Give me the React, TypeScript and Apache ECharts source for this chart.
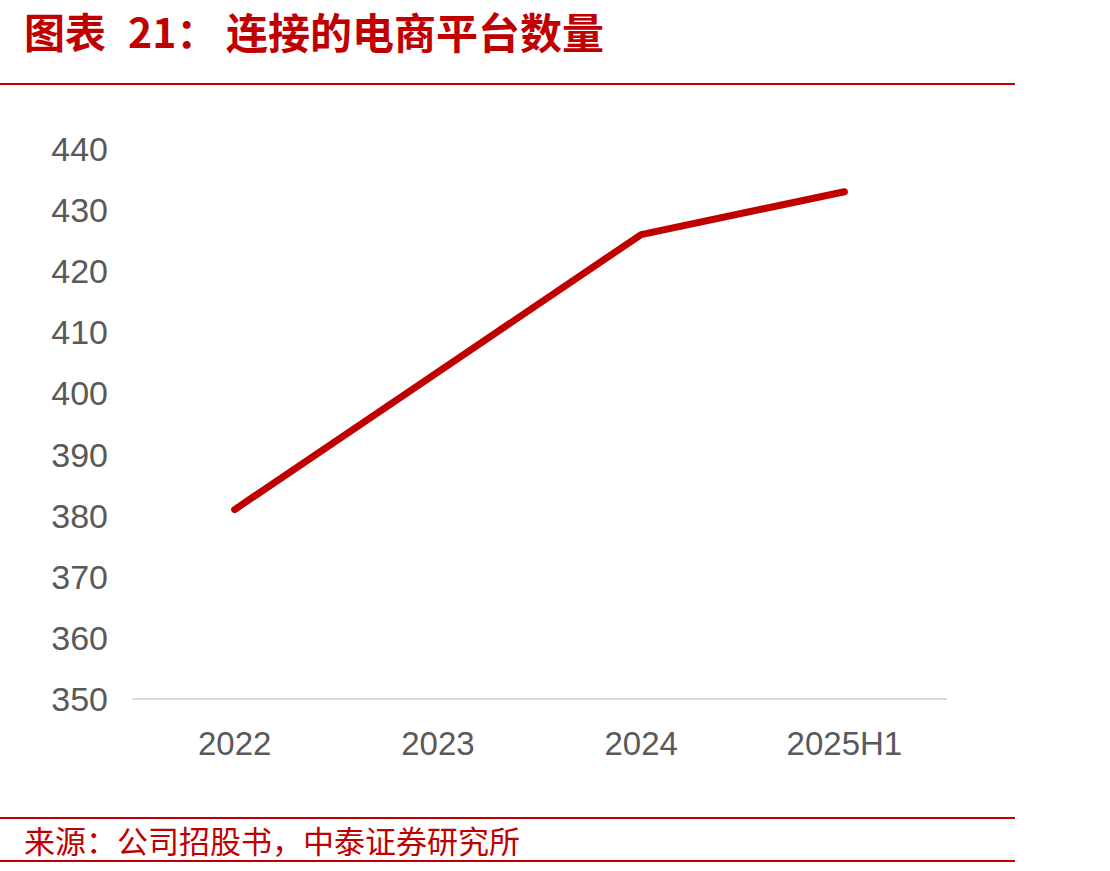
import React, { useEffect, useRef } from "react";
import * as echarts from "echarts";

const categories = ["2022", "2023", "2024", "2025H1"];
const platformCounts = [381, 403.5, 426, 433];
const yMin = 350;
const yMax = 440;
const yInterval = 10;

const titlePrefix = "图表";
const titleNumber = "21：";
const titleText = "连接的电商平台数量";
const sourceText = "来源：公司招股书，中泰证券研究所";

export default function App() {
  const ref = useRef<HTMLDivElement>(null);
  useEffect(() => {
    if (!ref.current) return;
    const chart = echarts.init(ref.current, undefined, { renderer: "svg" });
    const red = "#C00000";
    const cjk = "'Noto Sans CJK SC', sans-serif";
    const titleStyle = (text: string, size: number) => ({
      text,
      fill: red,
      fontSize: size,
      fontWeight: "bold",
      fontFamily: cjk,
      verticalAlign: "middle",
      align: "left",
      lineHeight: size,
    });
    chart.setOption({
      animation: false,
      backgroundColor: "#ffffff",
      grid: { left: 133, right: 164, top: 149, bottom: 172 },
      xAxis: {
        type: "category",
        data: categories,
        boundaryGap: true,
        axisLine: { show: true, lineStyle: { color: "#D9D9D9", width: 2 } },
        axisTick: { show: false },
        axisLabel: {
          color: "#595959",
          fontSize: 33,
          fontFamily: "'Liberation Sans Narrow', 'Arial Narrow', 'Liberation Sans', sans-serif",
          margin: 28,
        },
      },
      yAxis: {
        type: "value",
        min: yMin,
        max: yMax,
        interval: yInterval,
        axisLine: { show: false },
        axisTick: { show: false },
        splitLine: { show: false },
        axisLabel: {
          color: "#595959",
          fontSize: 34,
          fontFamily: "'Liberation Sans', Arial, sans-serif",
          margin: 25,
        },
      },
      series: [
        {
          type: "line",
          data: platformCounts,
          showSymbol: false,
          symbol: "none",
          lineStyle: { color: red, width: 7, cap: "round", join: "round" },
        },
      ],
      graphic: [
        { type: "text", x: 24, y: 30, style: titleStyle(titlePrefix, 41) },
        { type: "text", x: 128, y: 30, style: titleStyle(titleNumber, 41) },
        { type: "text", x: 226, y: 30, style: titleStyle(titleText, 42) },
        {
          type: "line",
          shape: { x1: 0, y1: 84, x2: 1015, y2: 84 },
          style: { stroke: red, lineWidth: 2 },
        },
        {
          type: "line",
          shape: { x1: 0, y1: 818, x2: 1015, y2: 818 },
          style: { stroke: red, lineWidth: 2 },
        },
        {
          type: "text",
          x: 24,
          y: 839,
          style: {
            text: sourceText,
            fill: red,
            fontSize: 31,
            fontFamily: cjk,
            verticalAlign: "middle",
            align: "left",
          },
        },
        {
          type: "line",
          shape: { x1: 0, y1: 861, x2: 1015, y2: 861 },
          style: { stroke: red, lineWidth: 2 },
        },
      ],
    });
    return () => chart.dispose();
  }, []);
  return (
    <div
      ref={ref}
      style={{ position: "fixed", left: 0, top: 0, width: 1110, height: 871 }}
    />
  );
}
